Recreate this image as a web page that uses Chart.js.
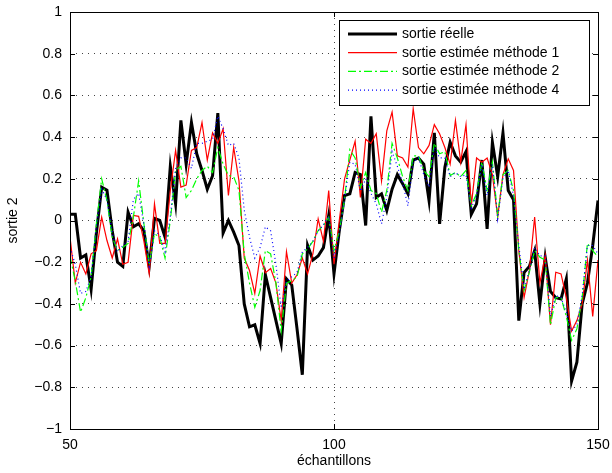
<!DOCTYPE html>
<html>
<head>
<meta charset="utf-8">
<script src="https://cdn.jsdelivr.net/npm/chart.js@4.4.0/dist/chart.umd.min.js"></script>
<style>
  html, body { margin: 0; padding: 0; background: #fff; }
  canvas { display: block; }
</style>
</head>
<body>
<canvas id="chart" width="612" height="473"></canvas>
<script>
const FIRST_SAMPLE = 50;

// samples 50..150
const sortieReelle = [
  0.03, 0.03, -0.18, -0.165, -0.33, -0.06, 0.16, 0.145, -0.05, -0.20,
  -0.22, 0.04, -0.03, -0.015, -0.05, -0.22, 0.01, 0.0, -0.08, 0.26,
  0.08, 0.48, 0.27, 0.47, 0.32, 0.24, 0.15, 0.215, 0.515, -0.06,
  0.0, -0.056, -0.12, -0.40, -0.51, -0.50, -0.59, -0.26, -0.37, -0.48,
  -0.59, -0.28, -0.31, -0.52, -0.74, -0.12, -0.19, -0.17, -0.13, 0.024,
  -0.256, -0.05, 0.12, 0.128, 0.23, 0.22, -0.024, 0.50, 0.11, 0.128,
  0.048, 0.15, 0.22, 0.176, 0.128, 0.29, 0.30, 0.27, 0.096, 0.42,
  -0.016, 0.255, 0.375, 0.31, 0.28, 0.33, 0.03, 0.08, 0.29, -0.04,
  0.375, 0.21, 0.42, 0.144, 0.10, -0.48, -0.25, -0.22, -0.144, -0.40,
  -0.176, -0.34, -0.37, -0.376, -0.28, -0.77, -0.68, -0.40, -0.30, -0.12,
  0.096
];
const methode1 = [
  -0.08, -0.30, -0.20, -0.256, -0.16, -0.144, 0.016, -0.096, -0.18, -0.088,
  -0.21, -0.20, 0.024, 0.02, -0.10, -0.256, 0.08, -0.11, -0.11, 0.144,
  0.336, 0.16, 0.17, 0.336, 0.35, 0.47, 0.29, 0.42, 0.37, 0.44,
  0.12, 0.35, 0.19, -0.18, -0.24, -0.35, -0.17, -0.25, -0.23, -0.30,
  -0.48, -0.15, -0.30, -0.26, -0.18, -0.256, -0.16, 0.008, -0.10, 0.144,
  -0.21, 0.0, 0.2, 0.29, 0.38, 0.11, 0.39, 0.37, 0.416, 0.19,
  0.43, 0.52, 0.31, 0.30, 0.256, 0.536, 0.35, 0.32, 0.36, 0.46,
  0.416, 0.35, 0.27, 0.48, 0.28, 0.46, 0.07, 0.30, 0.28, 0.30,
  0.22, 0.016, 0.22, 0.296, 0.24, -0.144, -0.37, -0.24, 0.016, -0.30,
  -0.168, -0.50, -0.248, -0.256, -0.37, -0.53, -0.48, -0.40, -0.19, -0.46,
  -0.19
];
const methode2 = [
  -0.17, -0.29, -0.44, -0.37, -0.27, -0.016, 0.20, 0.096, -0.08, -0.144,
  -0.128, -0.11, 0.016, 0.19, -0.016, -0.21, -0.064, -0.08, -0.18, 0.0,
  0.24, 0.26, 0.11, 0.144, 0.20, 0.24, 0.26, 0.23, 0.35, 0.27,
  0.216, 0.21, 0.144, -0.16, -0.30, -0.416, -0.336, -0.144, -0.16, -0.30,
  -0.53, -0.30, -0.29, -0.27, -0.16, -0.136, -0.10, -0.048, -0.024, 0.016,
  -0.144, -0.05, 0.10, 0.34, 0.30, 0.16, 0.23, 0.144, 0.13, 0.04,
  0.144, 0.37, 0.30, 0.21, 0.144, 0.31, 0.31, 0.24, 0.21, 0.37,
  0.32, 0.33, 0.216, 0.23, 0.21, 0.24, 0.07, 0.13, 0.28, 0.144,
  0.28, 0.024, 0.22, 0.24, 0.144, -0.144, -0.336, -0.248, -0.144, -0.176,
  -0.19, -0.50, -0.37, -0.37, -0.46, -0.575, -0.52, -0.37, -0.11, -0.144,
  -0.176
];
const methode4 = [
  -0.13, -0.21, -0.35, -0.34, -0.27, -0.03, 0.15, 0.10, -0.06, -0.15,
  -0.12, -0.10, 0.10, 0.13, -0.02, -0.22, -0.05, -0.07, -0.15, 0.02,
  0.25, 0.30, 0.30, 0.25, 0.37, 0.37, 0.38, 0.39, 0.50, 0.44,
  0.36, 0.37, 0.30, 0.05, -0.08, -0.18, -0.13, -0.03, -0.05, -0.21,
  -0.42, -0.29, -0.27, -0.25, -0.15, -0.13, -0.10, -0.05, -0.02, 0.02,
  -0.18, -0.06, 0.10, 0.28, 0.27, 0.14, 0.20, 0.13, 0.08, -0.016,
  0.11, 0.33, 0.26, 0.18, 0.07, 0.28, 0.30, 0.22, 0.16, 0.35,
  0.30, 0.30, 0.21, 0.23, 0.21, 0.22, 0.06, 0.12, 0.27, 0.12,
  0.27, 0.008, 0.20, 0.24, 0.12, -0.12, -0.33, -0.24, -0.13, -0.17,
  -0.17, -0.46, -0.36, -0.37, -0.44, -0.53, -0.50, -0.36, -0.12, -0.12,
  -0.16
];

const seriesLabels = [
  "sortie réelle",
  "sortie estimée méthode 1",
  "sortie estimée méthode 2",
  "sortie estimée méthode 4",
];
const xTicks = [50, 100, 150];
const yTicks = [-1, -0.8, -0.6, -0.4, -0.2, 0, 0.2, 0.4, 0.6, 0.8, 1];
const yTickLabels = ["\u22121", "\u22120.8", "\u22120.6", "\u22120.4", "\u22120.2", "0", "0.2", "0.4", "0.6", "0.8", "1"];

const FONT = "'Liberation Sans', Arial, Helvetica, sans-serif";

const samples = sortieReelle.map((v, i) => FIRST_SAMPLE + i);
const toPoints = (values) => values.map((v, i) => ({ x: samples[i], y: v }));

// legend + box + inward ticks, drawn the way matlab does it
const matlabFrame = {
  id: "matlabFrame",
  afterDraw(chart) {
    const ctx = chart.ctx;
    const area = chart.chartArea;
    const xs = chart.scales.x;
    const ys = chart.scales.y;
    ctx.save();
    ctx.strokeStyle = "#000";
    ctx.lineWidth = 1;
    ctx.setLineDash([]);
    ctx.strokeRect(Math.round(area.left) + 0.5, Math.round(area.top) + 0.5,
      Math.round(area.right - area.left), Math.round(area.bottom - area.top));
    ctx.beginPath();
    xTicks.forEach((t) => {
      const px = Math.round(xs.getPixelForValue(t)) + 0.5;
      ctx.moveTo(px, area.bottom); ctx.lineTo(px, area.bottom - 5);
      ctx.moveTo(px, area.top); ctx.lineTo(px, area.top + 5);
    });
    yTicks.forEach((t) => {
      const py = Math.round(ys.getPixelForValue(t)) + 0.5;
      ctx.moveTo(area.left, py); ctx.lineTo(area.left + 5, py);
      ctx.moveTo(area.right, py); ctx.lineTo(area.right - 5, py);
    });
    ctx.stroke();

    // legend
    const lx = 339, ly = 20, lw = 250, lh = 85;
    ctx.fillStyle = "#fff";
    ctx.fillRect(lx, ly, lw, lh);
    ctx.strokeRect(lx + 0.5, ly + 0.5, lw, lh);
    ctx.font = "14px " + FONT;
    ctx.textBaseline = "middle";
    chart.data.datasets.forEach((ds, i) => {
      const rowY = 34 + i * 18.7;
      ctx.strokeStyle = ds.borderColor;
      ctx.lineWidth = ds.borderWidth;
      ctx.setLineDash(ds.borderDash || []);
      ctx.beginPath();
      ctx.moveTo(lx + 9, rowY);
      ctx.lineTo(lx + 58, rowY);
      ctx.stroke();
      ctx.fillStyle = "#000";
      ctx.fillText(ds.label, lx + 63, rowY);
    });
    ctx.restore();
  },
};

new Chart(document.getElementById("chart"), {
  type: "line",
  data: {
    datasets: [
      { label: seriesLabels[0], data: toPoints(sortieReelle), borderColor: "#000000", borderWidth: 3, order: 4 },
      { label: seriesLabels[1], data: toPoints(methode1), borderColor: "#ff0000", borderWidth: 1.2, order: 3 },
      { label: seriesLabels[2], data: toPoints(methode2), borderColor: "#00ff00", borderWidth: 1.2, borderDash: [8, 3, 2, 3], order: 2 },
      { label: seriesLabels[3], data: toPoints(methode4), borderColor: "#0000ff", borderWidth: 1.2, borderDash: [1, 3], order: 1 },
    ],
  },
  options: {
    responsive: false,
    animation: false,
    devicePixelRatio: 1,
    elements: { point: { radius: 0 }, line: { tension: 0, fill: false } },
    layout: { padding: { left: 0, right: 14, top: 12, bottom: 0 } },
    plugins: { legend: { display: false }, tooltip: { enabled: false } },
    scales: {
      x: {
        type: "linear",
        min: 50,
        max: 150,
        afterBuildTicks: (s) => { s.ticks = xTicks.map((v) => ({ value: v })); },
        afterFit: (s) => { s.height = 44; s.paddingRight = 0; s.paddingLeft = 0; },
        grid: { color: "#444", lineWidth: 1, drawTicks: false },
        border: { display: false, dash: [1, 5] },
        ticks: { color: "#000", padding: 8, maxRotation: 0, font: { family: FONT, size: 14 } },
        title: { display: true, text: "échantillons", color: "#000", padding: { top: 0, bottom: 3 }, font: { family: FONT, size: 14 } },
      },
      y: {
        min: -1,
        max: 1,
        afterBuildTicks: (s) => { s.ticks = yTicks.map((v) => ({ value: v })); },
        afterFit: (s) => { s.width = 70; s.paddingTop = 0; s.paddingBottom = 0; },
        grid: { color: "#444", lineWidth: 1, drawTicks: false },
        border: { display: false, dash: [1, 5] },
        ticks: {
          color: "#000",
          padding: 8,
          font: { family: FONT, size: 14 },
          callback: (v, i) => yTickLabels[i],
        },
        title: { display: true, text: "sortie 2", color: "#000", padding: { top: 5, bottom: 0 }, font: { family: FONT, size: 14 } },
      },
    },
  },
  plugins: [matlabFrame],
});
</script>
</body>
</html>
